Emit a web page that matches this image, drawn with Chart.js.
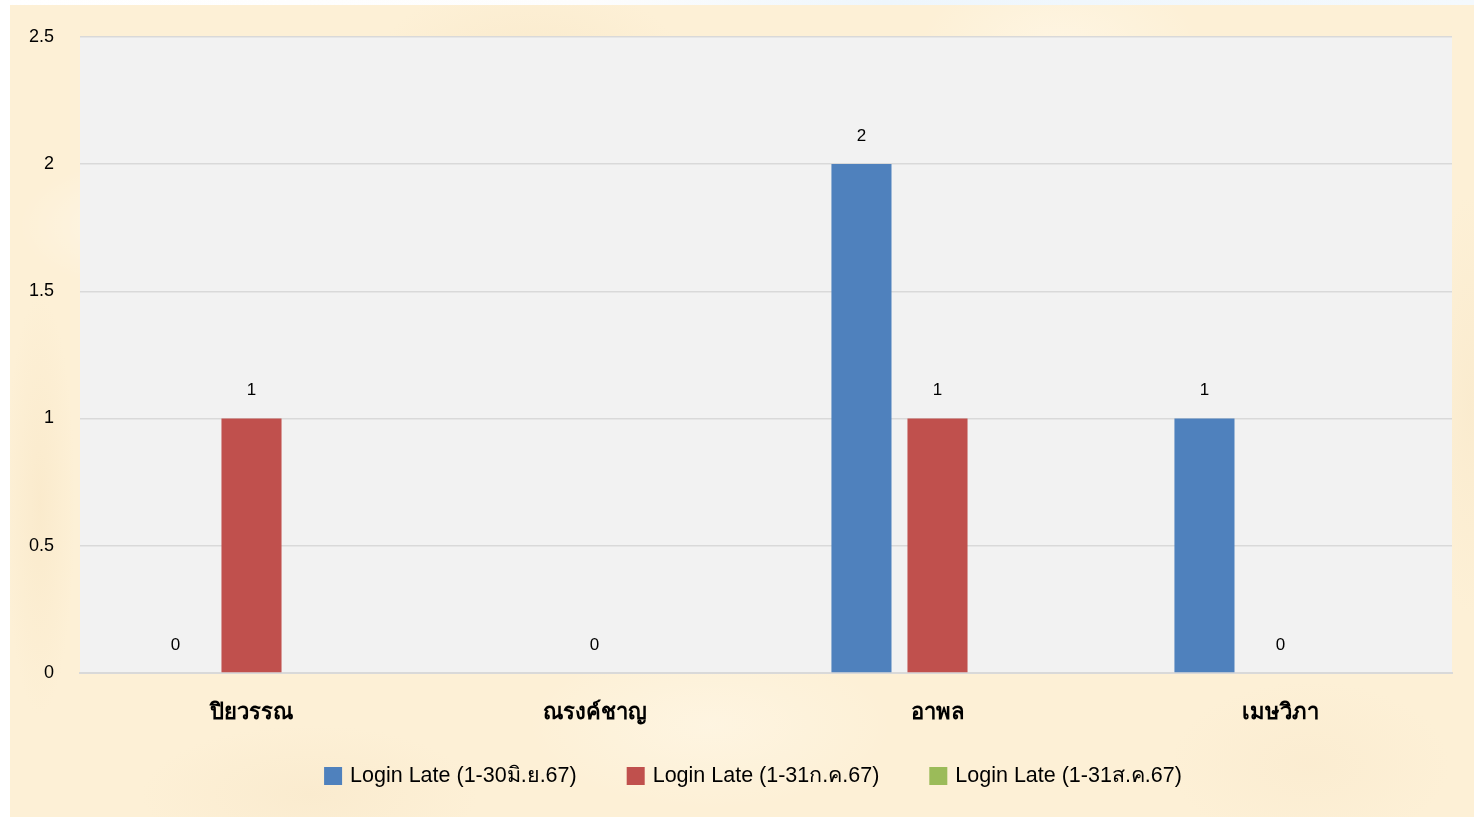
<!DOCTYPE html>
<html>
<head>
<meta charset="utf-8">
<script src="https://cdn.jsdelivr.net/npm/chart.js@4.4.1/dist/chart.umd.min.js"></script>
<style>
  html, body { margin: 0; padding: 0; background: #ffffff; }
  body { width: 1474px; height: 817px; position: relative; overflow: hidden; }
  #topband {
    position: absolute; left: 0; top: 0; width: 1474px; height: 5px;
    background: linear-gradient(90deg, #ffffff 0%, #fdfdfd 40%, #eef6fc 60%, #f4f9fd 100%);
  }
  #paper {
    position: absolute; left: 10px; top: 5px; width: 1464px; height: 812px;
    background-color: #fdf0d6;
    background-image:
      radial-gradient(ellipse 160px 90px at 120px 220px, rgba(255,255,255,0.35), rgba(255,255,255,0) 70%),
      radial-gradient(ellipse 220px 120px at 520px 60px, rgba(245,226,190,0.4), rgba(245,226,190,0) 70%),
      radial-gradient(ellipse 200px 110px at 1050px 40px, rgba(255,250,238,0.5), rgba(255,250,238,0) 70%),
      radial-gradient(ellipse 260px 120px at 700px 720px, rgba(255,250,238,0.45), rgba(255,250,238,0) 70%),
      radial-gradient(ellipse 240px 100px at 300px 790px, rgba(246,228,196,0.4), rgba(246,228,196,0) 70%),
      radial-gradient(ellipse 200px 120px at 1300px 760px, rgba(247,230,200,0.35), rgba(247,230,200,0) 70%),
      radial-gradient(ellipse 60px 300px at 1460px 400px, rgba(246,228,195,0.4), rgba(246,228,195,0) 70%),
      radial-gradient(ellipse 50px 300px at 30px 500px, rgba(246,226,190,0.4), rgba(246,226,190,0) 70%);
  }
  #wrap { position: absolute; left: 0; top: 0; width: 1474px; height: 817px; }
</style>
</head>
<body>
<div id="topband"></div>
<div id="paper"></div>
<div id="wrap"><canvas id="chart" width="1474" height="817"></canvas></div>
<script>
// Staff names (categories)
const categories = ['ปิยวรรณ', 'ณรงค์ชาญ', 'อาพล', 'เมษวิภา'];

// Late logins per staff member for each period (null = no entry)
const seriesNames = [
  'Login Late (1-30มิ.ย.67)',
  'Login Late (1-31ก.ค.67)',
  'Login Late (1-31ส.ค.67)'
];
const lateJun = [0, null, 2, 1];
const lateJul = [1, 0, 1, 0];
const lateAug = [null, null, null, null];

const yTicks = [0, 0.5, 1, 1.5, 2, 2.5];

const seriesColors = ['#4f81bd', '#c0504d', '#9bbb59'];

const FONT = '"Liberation Sans", Arial, sans-serif';

// Light grey plotting area behind the bars
const plotBackground = {
  id: 'plotBackground',
  beforeDraw(chart) {
    const { ctx, chartArea: a } = chart;
    ctx.save();
    ctx.fillStyle = '#f2f2f2';
    ctx.fillRect(a.left, a.top, a.right - a.left, a.bottom - a.top);
    ctx.restore();
  }
};

// Value labels above each bar
const valueLabels = {
  id: 'valueLabels',
  afterDatasetsDraw(chart) {
    const { ctx } = chart;
    ctx.save();
    ctx.font = '17px ' + FONT;
    ctx.fillStyle = '#000000';
    ctx.textAlign = 'center';
    ctx.textBaseline = 'middle';
    chart.data.datasets.forEach((ds, i) => {
      const meta = chart.getDatasetMeta(i);
      meta.data.forEach((el, j) => {
        const v = ds.data[j];
        if (v === null || v === undefined) return;
        ctx.fillText(String(v), el.x, el.y - 28);
      });
    });
    ctx.restore();
  }
};

// Category names under the axis, placed by the x scale
const categoryLabels = {
  id: 'categoryLabels',
  afterDraw(chart) {
    const { ctx, chartArea: a } = chart;
    const xs = chart.scales.x;
    ctx.save();
    ctx.font = 'bold 22px Tahoma, ' + FONT;
    ctx.fillStyle = '#000000';
    ctx.textAlign = 'center';
    ctx.textBaseline = 'alphabetic';
    chart.data.labels.forEach((lab, i) => {
      ctx.fillText(lab, xs.getPixelForValue(i), a.bottom + 46);
    });
    ctx.restore();
  }
};

// Series key along the bottom
const seriesKey = {
  id: 'seriesKey',
  afterDraw(chart) {
    const { ctx } = chart;
    const box = 18, textGap = 8, itemGap = 50, centerX = 753, baseY = 782;
    ctx.save();
    ctx.font = '21.5px ' + FONT;
    const items = chart.data.datasets.map(ds => ({
      label: ds.label, color: ds.backgroundColor,
      w: box + textGap + ctx.measureText(ds.label).width
    }));
    const total = items.reduce((s, it) => s + it.w, 0) + itemGap * (items.length - 1);
    let x = centerX - total / 2;
    ctx.textBaseline = 'alphabetic';
    ctx.textAlign = 'left';
    items.forEach(it => {
      ctx.fillStyle = it.color;
      ctx.fillRect(x, baseY - 15, box, box);
      ctx.fillStyle = '#000000';
      ctx.fillText(it.label, x + box + textGap, baseY);
      x += it.w + itemGap;
    });
    ctx.restore();
  }
};

new Chart(document.getElementById('chart'), {
  type: 'bar',
  data: {
    labels: categories,
    datasets: [lateJun, lateJul, lateAug].map((d, i) => ({
      label: seriesNames[i],
      data: d,
      backgroundColor: seriesColors[i],
      borderWidth: 0,
      categoryPercentage: 0.665,
      barPercentage: 0.79
    }))
  },
  options: {
    responsive: false,
    animation: false,
    layout: { padding: { left: 10, right: 22, top: 36, bottom: 0 } },
    scales: {
      x: {
        grid: { display: false, drawTicks: false },
        border: { display: true, color: '#d9d9d9', width: 2 },
        ticks: { display: false },
        afterFit(scale) { scale.height = 144; }
      },
      y: {
        min: 0,
        max: 2.5,
        afterBuildTicks(scale) { scale.ticks = yTicks.map(v => ({ value: v })); },
        grid: { color: '#d9d9d9', lineWidth: 1.5, drawTicks: false },
        border: { display: false },
        ticks: {
          color: '#000000',
          padding: 26,
          callback: v => String(v),
          font: { family: FONT, size: 18 }
        },
        afterFit(scale) { scale.width = 70; }
      }
    },
    plugins: {
      legend: { display: false },
      tooltip: { enabled: false }
    }
  },
  plugins: [plotBackground, valueLabels, categoryLabels, seriesKey]
});
</script>
</body>
</html>
